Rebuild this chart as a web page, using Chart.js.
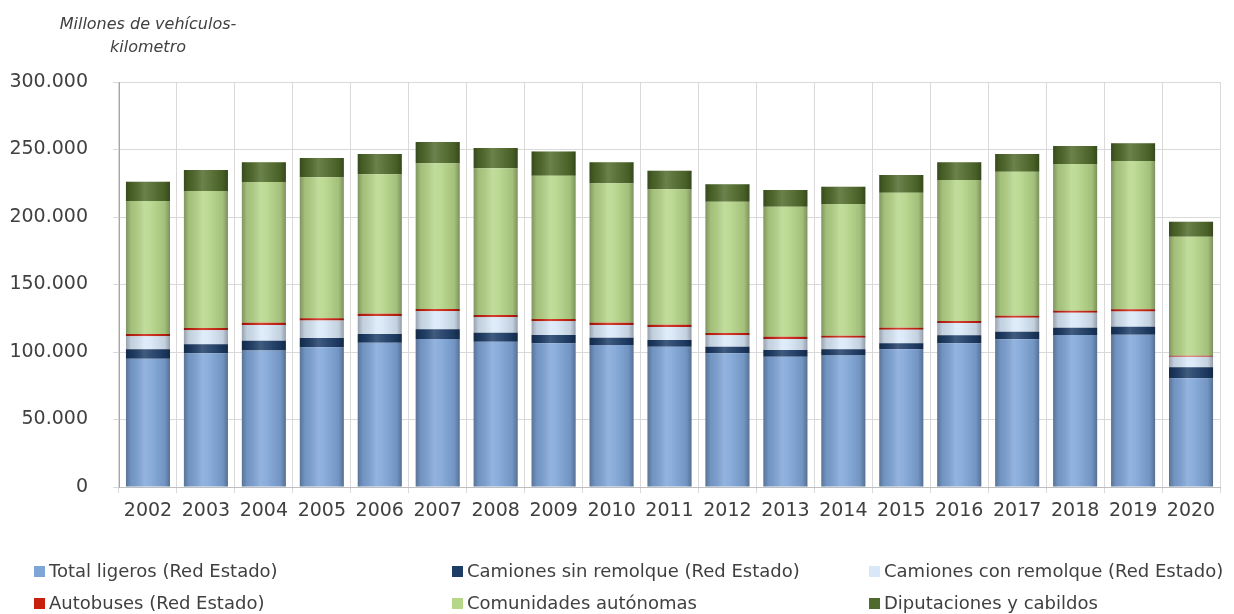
<!DOCTYPE html>
<html lang="es">
<head>
<meta charset="utf-8">
<title>Tráfico en vehículos-kilómetro</title>
<script src="https://cdn.jsdelivr.net/npm/chart.js@4.4.1/dist/chart.umd.min.js"></script>
<style>
    html, body { margin: 0; padding: 0; background: #ffffff; }
    #wrap { position: relative; width: 1234px; height: 614px; overflow: hidden; }
    #chart { position: absolute; left: 0; top: 0; }
    #unit {
        position: absolute; left: 38px; top: 12px; width: 220px;
        text-align: center; font: italic 16px "DejaVu Sans", sans-serif;
        color: #404040; line-height: 23px;
    }
    .legend-item {
        position: absolute; font: 18px "DejaVu Sans", sans-serif; color: #404040;
        white-space: nowrap; line-height: 22px;
    }
    .legend-item span.box {
        display: inline-block; width: 11px; height: 11px; margin-right: 4px;
        vertical-align: 0px;
    }
</style>
</head>
<body>
<div id="wrap">
    <canvas id="chart" width="1234" height="614"></canvas>
    <div id="unit">Millones de vehículos-<br>kilometro</div>
    <div id="legend"></div>
</div>
<script>
// Millones de vehículos-kilómetro por tipo de red y vehículo
const years = ['2002', '2003', '2004', '2005', '2006', '2007', '2008', '2009', '2010', '2011',
    '2012', '2013', '2014', '2015', '2016', '2017', '2018', '2019', '2020'];

const totalLigeros = [95000, 99000, 101200, 103500, 106900, 109600, 107600, 106400, 105200, 103900,
    99000, 96500, 97500, 102000, 106400, 109400, 112600, 112800, 80500];
const camionesSinRemolque = [7000, 6700, 7200, 6900, 6400, 7200, 6700, 6200, 5400, 5000,
    4900, 5000, 4500, 4400, 6000, 5600, 5400, 5900, 8200];
const camionesConRemolque = [9600, 10400, 11600, 12900, 13400, 13300, 11400, 10100, 9400, 9700,
    8600, 8200, 8500, 10000, 9000, 10300, 11000, 11300, 7700];
const autobuses = [1700, 1700, 1700, 1700, 1700, 1700, 1700, 1700, 1700, 1600,
    1600, 1600, 1600, 1600, 1600, 1600, 1600, 1600, 900];
const comunidades = [98500, 101500, 104200, 104400, 103200, 108000, 108700, 106200, 103300, 100300,
    97200, 96300, 97500, 100000, 104400, 106600, 108700, 109900, 88100];
const diputaciones = [14300, 15500, 14600, 14300, 15100, 15700, 15000, 18000, 15500, 13800,
    12900, 12400, 12800, 13100, 13100, 13200, 13300, 13100, 11100];

const yTicks = [0, 50000, 100000, 150000, 200000, 250000, 300000];

const seriesNames = [
    'Total ligeros (Red Estado)',
    'Camiones sin remolque (Red Estado)',
    'Camiones con remolque (Red Estado)',
    'Autobuses (Red Estado)',
    'Comunidades autónomas',
    'Diputaciones y cabildos'
];
const seriesValues = [totalLigeros, camionesSinRemolque, camionesConRemolque, autobuses, comunidades, diputaciones];
const seriesColors = ['#7fa5d8', '#1d3c66', '#d9e8f8', '#c8200f', '#b6d688', '#4f6a2a'];

const textColor = '#404040';
const gridColor = '#d9d9d9';

function formatThousands(v) {
    return String(v).replace(/\B(?=(\d{3})+(?!\d))/g, '.');
}

// shading over each bar so the stacks read as cylinders
const cylinderShade = {
    id: 'cylinderShade',
    afterDatasetsDraw(chart) {
        const ctx = chart.ctx;
        ctx.save();
        chart.data.datasets.forEach((ds, i) => {
            const meta = chart.getDatasetMeta(i);
            meta.data.forEach(bar => {
                const { x, y, base, width } = bar.getProps(['x', 'y', 'base', 'width'], true);
                const left = x - width / 2;
                const g = ctx.createLinearGradient(left, 0, left + width, 0);
                g.addColorStop(0, 'rgba(0,0,0,0.30)');
                g.addColorStop(0.12, 'rgba(0,0,0,0.10)');
                g.addColorStop(0.42, 'rgba(255,255,255,0.16)');
                g.addColorStop(0.55, 'rgba(255,255,255,0.10)');
                g.addColorStop(0.88, 'rgba(0,0,0,0.10)');
                g.addColorStop(1, 'rgba(0,0,0,0.32)');
                ctx.fillStyle = g;
                ctx.fillRect(left, Math.min(y, base), width, Math.abs(base - y));
            });
        });
        ctx.restore();
    }
};

const chart = new Chart(document.getElementById('chart').getContext('2d'), {
    type: 'bar',
    data: {
        labels: years,
        datasets: seriesNames.map((name, i) => ({
            label: name,
            data: seriesValues[i],
            backgroundColor: seriesColors[i],
            borderWidth: 0
        }))
    },
    options: {
        responsive: false,
        animation: false,
        layout: { padding: { top: 82, right: 14, left: 0, bottom: 0 } },
        datasets: {
            bar: { categoryPercentage: 1, barPercentage: 0.76 }
        },
        plugins: {
            legend: { display: false },
            tooltip: { enabled: false }
        },
        scales: {
            x: {
                stacked: true,
                afterFit: scale => { scale.height = 127; },
                grid: {
                    offset: true,
                    color: gridColor,
                    tickLength: 6,
                    drawTicks: true
                },
                border: { color: '#bfbfbf' },
                ticks: {
                    color: textColor,
                    padding: 7,
                    font: { family: 'DejaVu Sans', size: 19 }
                }
            },
            y: {
                stacked: true,
                min: 0,
                max: 300000,
                afterFit: scale => { scale.width = 119; },
                afterBuildTicks: scale => { scale.ticks = yTicks.map(v => ({ value: v })); },
                grid: { color: gridColor, tickLength: 6 },
                border: { color: '#a6a6a6' },
                ticks: {
                    color: textColor,
                    padding: 25,
                    font: { family: 'DejaVu Sans', size: 19 },
                    callback: v => formatThousands(v)
                }
            }
        }
    },
    plugins: [cylinderShade]
});

// legend in three columns under the chart
const legendEl = document.getElementById('legend');
const colX = [34, 452, 869];
const rowY = [560, 592];
chart.data.datasets.forEach((ds, i) => {
    const item = document.createElement('div');
    item.className = 'legend-item';
    item.style.left = colX[i % 3] + 'px';
    item.style.top = rowY[Math.floor(i / 3)] + 'px';
    const box = document.createElement('span');
    box.className = 'box';
    box.style.background = ds.backgroundColor;
    item.appendChild(box);
    item.appendChild(document.createTextNode(ds.label));
    legendEl.appendChild(item);
});
</script>
</body>
</html>
